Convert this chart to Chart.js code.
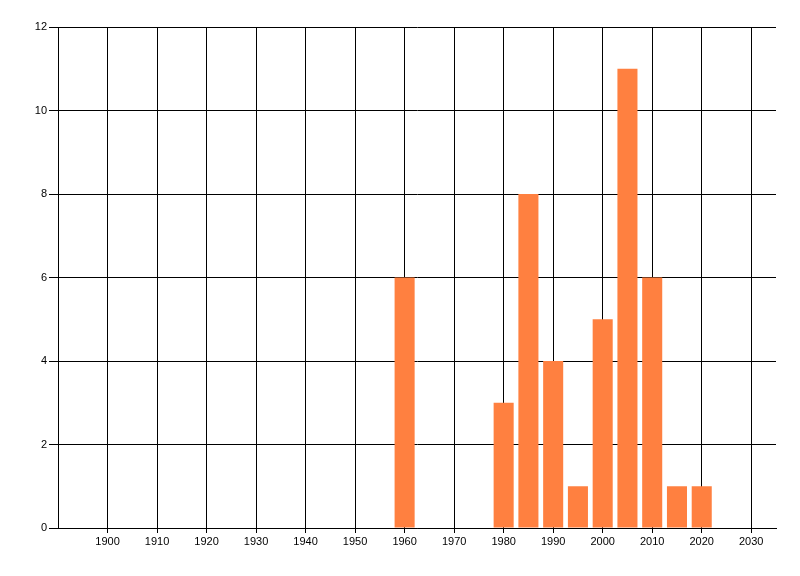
<!DOCTYPE html>
<html>
<head>
<meta charset="utf-8">
<script src="https://cdn.jsdelivr.net/npm/chart.js@4"></script>
<style>
  html, body { margin: 0; padding: 0; background: #fff; }
  #wrap { width: 800px; height: 576px; }
</style>
</head>
<body>
<div id="wrap"><canvas id="c" width="800" height="576"></canvas></div>
<script>
'use strict';
// values
const years = [1960, 1980, 1985, 1990, 1995, 2000, 2005, 2010, 2015, 2020];
const counts = [6, 3, 8, 4, 1, 5, 11, 6, 1, 1];
const xTicks = [1900, 1910, 1920, 1930, 1940, 1950, 1960, 1970, 1980, 1990, 2000, 2010, 2020, 2030];
const yTicks = [0, 2, 4, 6, 8, 10, 12];

const font = { family: 'Liberation Sans, Arial, sans-serif', size: 11 };

new Chart(document.getElementById('c').getContext('2d'), {
  type: 'bar',
  data: {
    datasets: [{
      data: years.map((y, i) => ({ x: y, y: counts[i] })),
      backgroundColor: '#FF8040',
      borderWidth: 0,
      barPercentage: 0.81,
      categoryPercentage: 1.0,
    }],
  },
  options: {
    responsive: false, animation: false,
    layout: { padding: { left: 0, top: 27, right: 24, bottom: 0 } },
    plugins: { legend: { display: false }, tooltip: { enabled: false } },
    scales: {
      x: {
        type: 'linear', min: 1890, max: 2035, offset: false,
        afterBuildTicks: (s) => { s.ticks = xTicks.map(v => ({ value: v })); },
        afterFit: (s) => { s.height = 48; },
        grid: { color: '#000', tickColor: '#000', tickLength: 5, lineWidth: 1, offset: false },
        border: { color: '#000' },
        ticks: { color: '#000', font, padding: 2, maxRotation: 0, autoSkip: false, callback: (v) => String(v) },
      },
      y: {
        min: 0, max: 12,
        afterBuildTicks: (s) => { s.ticks = yTicks.map(v => ({ value: v })); },
        afterFit: (s) => { s.width = 58; },
        grid: { color: '#000', tickColor: '#000', tickLength: 9, lineWidth: 1 },
        border: { color: '#000' },
        ticks: { color: '#000', font, padding: 2, callback: (v) => String(v) },
      },
    },
  },
});
</script>
</body>
</html>
